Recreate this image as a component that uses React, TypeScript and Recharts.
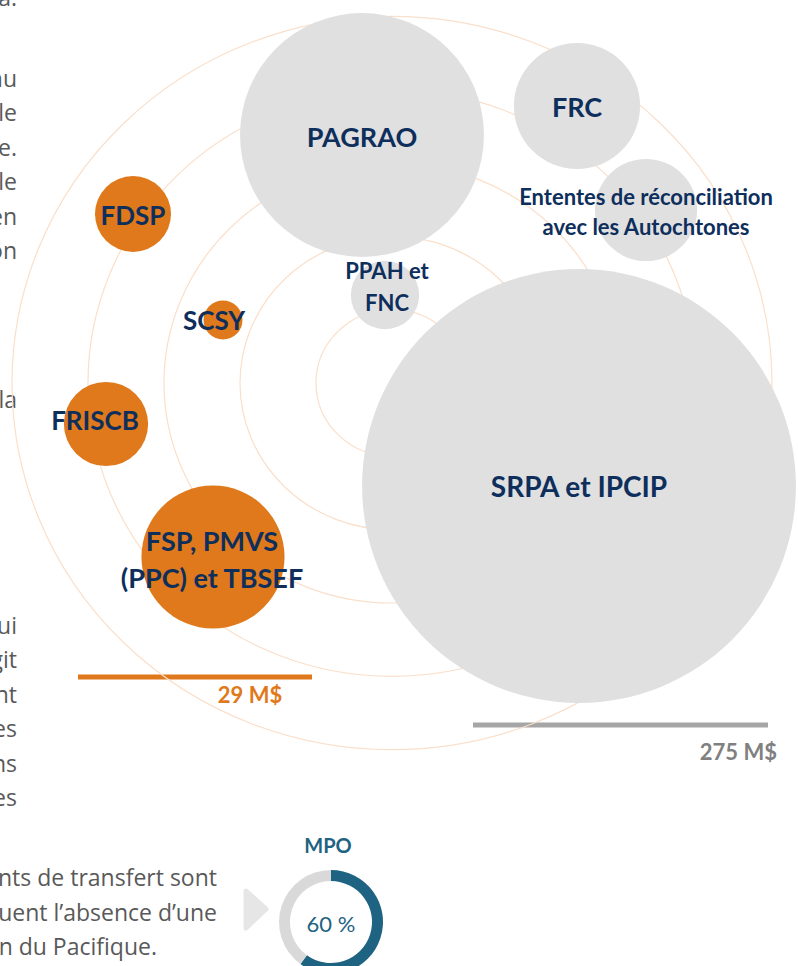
import React from "react";
import {
  ScatterChart,
  Scatter,
  XAxis,
  YAxis,
  ZAxis,
  ReferenceLine,
  PieChart,
  Pie,
  Cell,
} from "recharts";

// ---------- data ----------
const grayNames = [
  "PAGRAO",
  "FRC",
  "Ententes de réconciliation\navec les Autochtones",
  "PPAH et\nFNC",
  "SRPA et IPCIP",
];
const grayX = [362, 577, 646, 385, 579];
const grayY = [135, 106, 210, 295, 486];
const grayValues = [58.7, 15.7, 10.3, 4.6, 185.7]; // M$

const orangeNames = ["FDSP", "SCSY", "FRISCB", "FSP, PMVS\n(PPC) et TBSEF"];
const orangeX = [133, 223, 106, 213];
const orangeY = [214, 320, 424, 557];
const orangeValues = [5.7, 1.5, 7.0, 20.2]; // M$

const ringRadii = [76, 152, 228, 304, 380];
const ringCenterX = [392];
const ringCenterY = [383];

const orangeTotalLabel = "29 M$";
const grayTotalLabel = "275 M$";

const donutTitle = "MPO";
const donutShare = [60, 40];
const donutLabel = "60 %";

const leftTextTop = ["a.", "nu", "le", "e.", "le", "en", "on", "la"];
const leftTextMid = ["ui", "git", "nt", "es", "ns", "es"];
const bottomText = ["nts de transfert sont", "uent l’absence d’une", "n du Pacifique."];

// ---------- layout / style ----------
const W = 798;
const H = 966;
const PX = 1; // pixels per data unit (domain matches plot size)
const RING_Y_RATIO = 0.965;
const FONT = "Lato, 'Open Sans', sans-serif";
const BODY_FONT = "'Open Sans', Lato, sans-serif";
const BODY_FS = 23;
const NAVY = "#0E2E5C";
const ORANGE = "#DF791B";
const GRAY_BUBBLE = "#E0E0E0";
const RING = "#FADFCA";
const TEAL = "#1F6382";
const BODY = "#595959";

const LABEL_LAYOUT: Record<string, { dx: number; dy: number[]; fs: number }> = {
  PAGRAO: { dx: 0, dy: [12], fs: 27 },
  FRC: { dx: 0, dy: [11], fs: 27 },
  "Ententes de réconciliation\navec les Autochtones": { dx: 0, dy: [-5, 25], fs: 22 },
  "PPAH et\nFNC": { dx: 2, dy: [-16, 16], fs: 22 },
  "SRPA et IPCIP": { dx: 0, dy: [11], fs: 28 },
  FDSP: { dx: 0, dy: [11], fs: 26 },
  SCSY: { dx: -9, dy: [10], fs: 26 },
  FRISCB: { dx: -11, dy: [6], fs: 26 },
  "FSP, PMVS\n(PPC) et TBSEF": { dx: -1, dy: [-6, 31], fs: 27 },
};

const grayData = grayNames.map((name, i) => ({ name, x: grayX[i], y: grayY[i], z: grayValues[i] }));
const orangeData = orangeNames.map((name, i) => ({ name, x: orangeX[i], y: orangeY[i], z: orangeValues[i] }));
const ringData = ringRadii.map((r) => ({ x: ringCenterX[0], y: ringCenterY[0], r }));
const allBubbles = [...grayData, ...orangeData];

const donutData = [
  { name: "MPO", value: donutShare[0] },
  { name: "autre", value: donutShare[1] },
];

// ---------- shapes ----------
const RingShape = (props: any) => {
  const { cx, cy, payload } = props;
  const rx = payload.r * PX;
  return (
    <ellipse cx={cx} cy={cy} rx={rx} ry={rx * RING_Y_RATIO} fill="none" stroke={RING} strokeWidth={1.2} />
  );
};

const bubbleShape = (fill: string) => (props: any) => {
  const { cx, cy, size, width } = props;
  const r = size != null ? Math.sqrt(size / Math.PI) : width / 2;
  return <circle cx={cx} cy={cy} r={r} fill={fill} />;
};

const LabelShape = (props: any) => {
  const { cx, cy, payload } = props;
  const lay = LABEL_LAYOUT[payload.name];
  const lines = String(payload.name).split("\n");
  return (
    <g>
      {lines.map((t, i) => (
        <text
          key={i}
          x={cx + lay.dx}
          y={cy + lay.dy[i]}
          textAnchor="middle"
          fontFamily={FONT}
          fontWeight={700}
          fontSize={lay.fs}
          fill={NAVY}
        >
          {t}
        </text>
      ))}
    </g>
  );
};

const LEFT_TOP_BASELINES = [6, 87, 121, 156, 190, 225, 259, 408];
const LEFT_MID_BASELINES = [634, 668, 703, 737, 772, 806];
const BOTTOM_BASELINES = [886, 921, 955];
const BOTTOM_ENDS = [217, 217, 157];

export default function App() {
  return (
    <div style={{ position: "absolute", left: 0, top: 0, width: W, height: H, overflow: "hidden", background: "#fff" }}>
      <ScatterChart width={W} height={H} margin={{ top: 0, right: 0, bottom: 0, left: 0 }}>
        <XAxis type="number" dataKey="x" domain={[0, W]} hide />
        <YAxis type="number" dataKey="y" domain={[0, H]} reversed hide />
        <ZAxis type="number" dataKey="z" domain={[0, 275]} range={[0, 275 * 796]} scale="linear" />
        <Scatter data={ringData} shape={RingShape} isAnimationActive={false} />
        <Scatter data={grayData} shape={bubbleShape(GRAY_BUBBLE)} isAnimationActive={false} />
        <Scatter data={orangeData} shape={bubbleShape(ORANGE)} isAnimationActive={false} />
        <Scatter data={allBubbles} shape={LabelShape} isAnimationActive={false} />
        <ReferenceLine
          segment={[
            { x: 78, y: 677 },
            { x: 312, y: 677 },
          ]}
          stroke={ORANGE}
          strokeWidth={5}
        />
        <ReferenceLine
          segment={[
            { x: 473, y: 725 },
            { x: 768, y: 725 },
          ]}
          stroke="#A6A6A6"
          strokeWidth={5}
        />
        <text x={250} y={703} textAnchor="middle" fontFamily={FONT} fontWeight={700} fontSize={22} fill={ORANGE}>
          {orangeTotalLabel}
        </text>
        <text x={777} y={760} textAnchor="end" fontFamily={FONT} fontWeight={700} fontSize={22} fill="#808080">
          {grayTotalLabel}
        </text>
        {leftTextTop.map((t, i) => (
          <text key={"lt" + i} x={17} y={LEFT_TOP_BASELINES[i]} textAnchor="end" fontFamily={BODY_FONT} fontSize={BODY_FS} fill={BODY}>
            {t}
          </text>
        ))}
        {leftTextMid.map((t, i) => (
          <text key={"lm" + i} x={17} y={LEFT_MID_BASELINES[i]} textAnchor="end" fontFamily={BODY_FONT} fontSize={BODY_FS} fill={BODY}>
            {t}
          </text>
        ))}
        {bottomText.map((t, i) => (
          <text key={"bt" + i} x={BOTTOM_ENDS[i]} y={BOTTOM_BASELINES[i]} textAnchor="end" fontFamily={BODY_FONT} fontSize={BODY_FS} fill={BODY}>
            {t}
          </text>
        ))}
        <polygon points="246,891 266,909 246,928" fill="#E6E6E6" stroke="#E6E6E6" strokeWidth={5} strokeLinejoin="round" />
        <text x={328} y={853} textAnchor="middle" fontFamily={FONT} fontWeight={700} fontSize={20} fill={TEAL}>
          {donutTitle}
        </text>
      </ScatterChart>
      <div style={{ position: "absolute", left: 331 - 60, top: 922 - 60 }}>
        <PieChart width={120} height={120} margin={{ top: 0, right: 0, bottom: 0, left: 0 }}>
          <Pie
            data={donutData}
            dataKey="value"
            cx={60}
            cy={60}
            innerRadius={41}
            outerRadius={52}
            startAngle={90}
            endAngle={-270}
            stroke="none"
            isAnimationActive={false}
          >
            <Cell fill={TEAL} />
            <Cell fill="#D9D9D9" />
          </Pie>
          <text x={60} y={64} textAnchor="middle" dominantBaseline="middle" fontFamily={FONT} fontSize={22} fill={TEAL}>
            {donutLabel}
          </text>
        </PieChart>
      </div>
    </div>
  );
}
